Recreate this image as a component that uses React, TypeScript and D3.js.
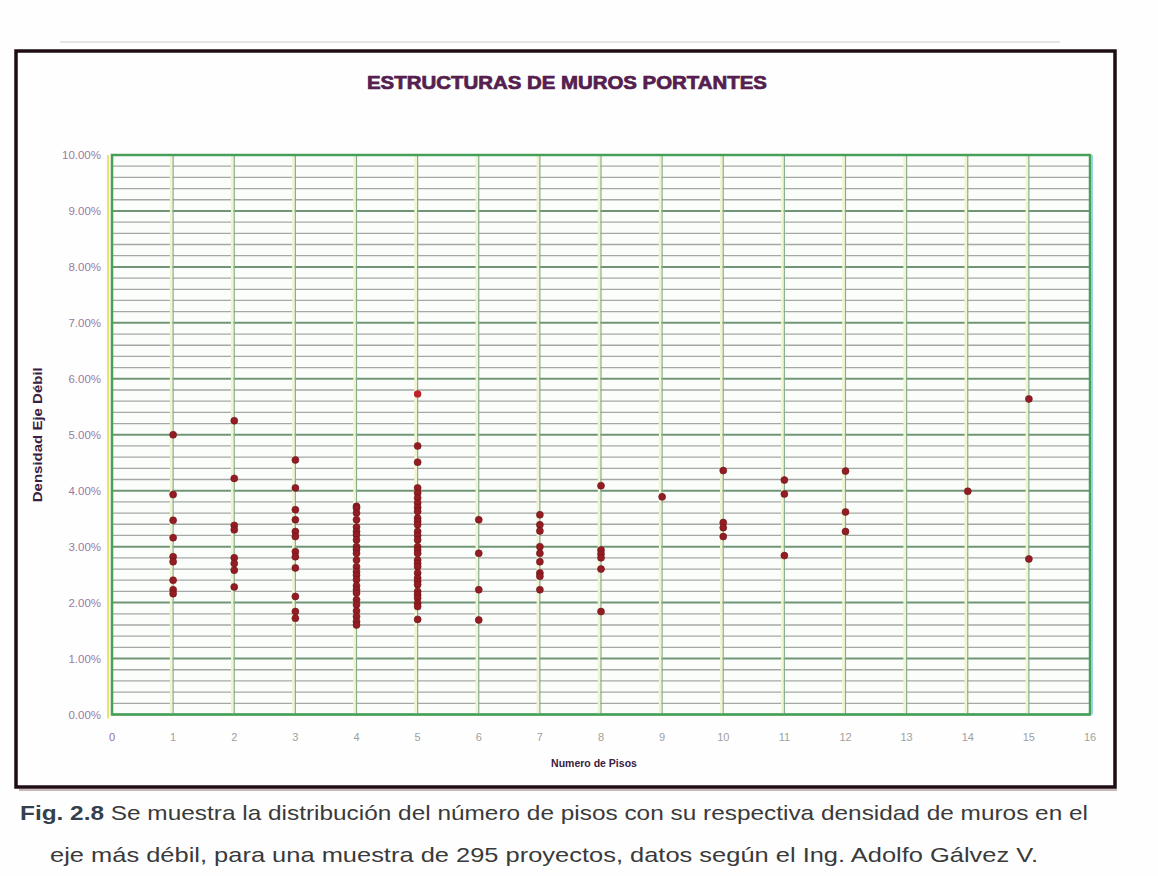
import React from "react";
import * as d3 from "d3";

// ---- data ----
const xTickValues = d3.range(0, 17);
const yTickValues = [0, 0.01, 0.02, 0.03, 0.04, 0.05, 0.06, 0.07, 0.08, 0.09, 0.1];
const minorStep = 0.002;

const piso1 = [5.0, 3.93, 3.47, 3.16, 2.82, 2.73, 2.4, 2.23, 2.16];
const piso2 = [5.25, 4.22, 3.38, 3.3, 2.8, 2.7, 2.58, 2.28];
const piso3 = [4.55, 4.05, 3.66, 3.48, 3.27, 3.18, 2.91, 2.82, 2.62, 2.11, 1.84, 1.72];
const piso4 = [3.72, 3.69, 3.6, 3.48, 3.35, 3.27, 3.21, 3.12, 3.0, 2.95, 2.88, 2.76, 2.64, 2.55, 2.49, 2.41, 2.3, 2.23, 2.17, 2.05, 1.96, 1.85, 1.75, 1.66, 1.6];
const piso5 = [4.8, 4.51, 4.05, 3.96, 3.87, 3.78, 3.7, 3.63, 3.51, 3.45, 3.39, 3.27, 3.2, 3.12, 3.0, 2.94, 2.88, 2.76, 2.7, 2.64, 2.53, 2.44, 2.38, 2.32, 2.2, 2.14, 2.08, 1.99, 1.93, 1.7];
const piso6 = [3.48, 2.88, 2.23, 1.69];
const piso7 = [3.57, 3.39, 3.28, 3.0, 2.88, 2.73, 2.53, 2.47, 2.23];
const piso8 = [4.09, 2.94, 2.87, 2.8, 2.6, 1.84];
const piso9 = [3.89];
const piso10 = [4.36, 3.43, 3.34, 3.18];
const piso11 = [4.19, 3.94, 2.84];
const piso12 = [4.35, 3.62, 3.27];
const piso14 = [3.99];
const piso15 = [5.64, 2.78];
const outlierPiso = [5];
const outlierValue = [5.73];

const floors = [1, 2, 3, 4, 5, 6, 7, 8, 9, 10, 11, 12, 14, 15];
const valuesByFloor = [piso1, piso2, piso3, piso4, piso5, piso6, piso7, piso8, piso9, piso10, piso11, piso12, piso14, piso15];

const titleText = "ESTRUCTURAS DE MUROS PORTANTES";
const yTitle = "Densidad Eje Débil";
const xTitle = "Numero de Pisos";
const captionBold = "Fig. 2.8";
const caption1 = " Se muestra la distribución del número de pisos con su respectiva densidad de muros en el";
const caption2 = "eje más débil,  para una muestra de 295 proyectos, datos según el Ing. Adolfo Gálvez V.";

export default function App() {
  const W = 1158;
  const H = 876;
  const x = d3.scaleLinear().domain([0, 16]).range([112, 1090]);
  const y = d3.scaleLinear().domain([0, 0.1]).range([714.5, 155]);
  const fmt = d3.format(".2%");
  const minor = d3.range(0, 0.1 + 1e-9, minorStep);

  const points: { px: number; v: number }[] = [];
  floors.forEach((f, i) => valuesByFloor[i].forEach((v) => points.push({ px: f, v: v / 100 })));

  const [x0, x1] = x.range();
  const [yb, yt] = y.range();

  return (
    <svg width={W} height={H} style={{ position: "absolute", left: 0, top: 0, background: "#fdfdfd" }} fontFamily="Liberation Sans, Arial, sans-serif">
      <rect x={0} y={0} width={W} height={H} fill="#fefefe" />
      {/* outer frame */}
      <line x1={60} y1={42} x2={1060} y2={42} stroke="#e4e4e8" strokeWidth={2} />
      <rect x={16} y={51} width={1099} height={736} fill="#fefefe" stroke="#1e0d14" strokeWidth={3.5} />
      <line x1={19} y1={790} x2={1117} y2={790} stroke="#c9b8b8" strokeWidth={2} />

      {/* title */}
      <text x={567} y={89} textAnchor="middle" fontSize={18} fontWeight={900} fill="#55204f" stroke="#55204f" strokeWidth={0.7} textLength={400} lengthAdjust="spacingAndGlyphs" fontFamily="Liberation Sans Narrow, Liberation Sans, sans-serif">
        {titleText}
      </text>

      {/* plot background */}
      <rect x={x0} y={yt} width={x1 - x0} height={yb - yt} fill="#fbfdfb" />

      {/* minor horizontal grid */}
      {minor.map((v, i) => (
        <line key={"m" + i} x1={x0} x2={x1} y1={y(v)} y2={y(v)} stroke={i % 5 === 0 ? "#6f9576" : "#a4a8a4"} strokeWidth={i % 5 === 0 ? 2 : 1.3} />
      ))}

      {/* vertical grid */}
      {xTickValues.slice(1, -1).map((t) => (
        <g key={"v" + t}>
          <line x1={x(t) - 2} x2={x(t) - 2} y1={yt} y2={yb} stroke="#f2f5cc" strokeWidth={2.5} />
          <line x1={x(t)} x2={x(t)} y1={yt} y2={yb} stroke="#86ad92" strokeWidth={1.2} />
        </g>
      ))}

      {/* plot border */}
      <line x1={x0 - 4} x2={x0 - 4} y1={yt} y2={yb + 4} stroke="#e7e56a" strokeWidth={2} />
      <rect x={x0} y={yt} width={x1 - x0} height={yb - yt} fill="none" stroke="#46a058" strokeWidth={2.5} />
      <line x1={x1 + 2} x2={x1 + 2} y1={yt} y2={yb} stroke="#7cc8d8" strokeWidth={1.5} />

      {/* y tick labels */}
      {yTickValues.map((t) => (
        <text key={"yt" + t} x={101} y={y(t) + 4} textAnchor="end" fontSize={11.5} fill="#9a7a9e">
          {fmt(t)}
        </text>
      ))}

      {/* x tick labels */}
      {xTickValues.map((t) => (
        <text key={"xt" + t} x={x(t)} y={741} textAnchor="middle" fontSize={11} fill={t === 0 ? "#9a6aa4" : "#a0a0a0"}>
          {t}
        </text>
      ))}

      {/* axis titles */}
      <text transform={`translate(42,${(yt + yb) / 2}) rotate(-90)`} textAnchor="middle" fontSize={12} fontWeight={900} fill="#3a2040" textLength={135} lengthAdjust="spacingAndGlyphs">
        {yTitle}
      </text>
      <text x={594} y={767} textAnchor="middle" fontSize={10.5} fontWeight={700} fill="#3a2040">
        {xTitle}
      </text>

      {/* points */}
      {points.map((p, i) => (
        <circle key={"p" + i} cx={x(p.px)} cy={y(p.v)} r={3.5} fill="#931d22" stroke="#6d1419" strokeWidth={0.6} />
      ))}
      {outlierPiso.map((f, i) => (
        <circle key={"o" + i} cx={x(f)} cy={y(outlierValue[i] / 100)} r={3.7} fill="#c0222c" />
      ))}

      {/* caption */}
      <text x={20} y={820} fontSize={21} fill="#3a3a3a" textLength={1068} lengthAdjust="spacingAndGlyphs">
        <tspan fontWeight={700} fill="#34404e">{captionBold}</tspan>
        <tspan>{caption1}</tspan>
      </text>
      <text x={50} y={862} fontSize={21} fill="#3a3a3a" textLength={988} lengthAdjust="spacingAndGlyphs">
        {caption2}
      </text>
    </svg>
  );
}
